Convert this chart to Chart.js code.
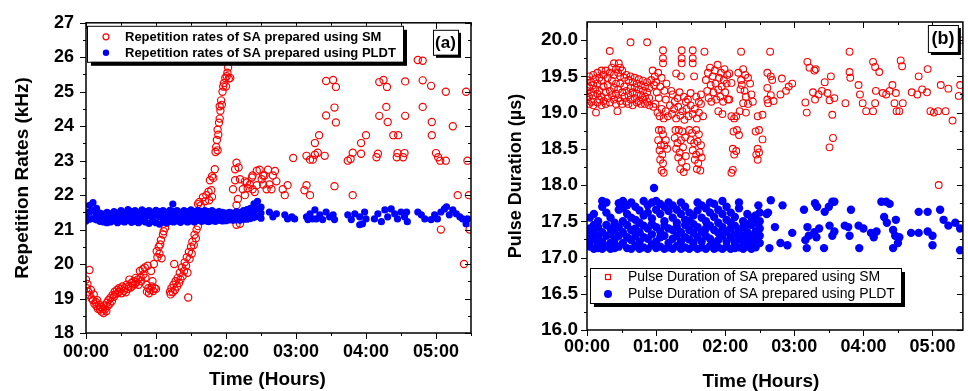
<!DOCTYPE html>
<html>
<head>
<meta charset="utf-8">
<script src="https://cdn.jsdelivr.net/npm/chart.js@4.4.1/dist/chart.umd.min.js"></script>
<style>
  html, body { margin: 0; padding: 0; background: #fff; overflow: hidden; width: 968px; height: 391px; }
  .panel { position: absolute; top: 0; width: 484px; height: 391px; }
  #panelA { left: 0; }
  #panelB { left: 484px; }
</style>
</head>
<body>
<div class="panel" id="panelA"><canvas id="chartA" width="484" height="391"></canvas></div>
<div class="panel" id="panelB"><canvas id="chartB" width="484" height="391"></canvas></div>
<script>
// ---- axis ticks (time in hours) ----
const hourTicks = [0, 1, 2, 3, 4, 5];
const timeTickLabels = ['00:00', '01:00', '02:00', '03:00', '04:00', '05:00'];
const halfHourTicks = [0.5, 1.5, 2.5, 3.5, 4.5, 5.5];
const rateTicks = [18, 19, 20, 21, 22, 23, 24, 25, 26, 27];
const rateMinorTicks = [18.5, 19.5, 20.5, 21.5, 22.5, 23.5, 24.5, 25.5, 26.5];
const durationTicks = [16.0, 16.5, 17.0, 17.5, 18.0, 18.5, 19.0, 19.5, 20.0];
const durationTickLabels = ['16.0', '16.5', '17.0', '17.5', '18.0', '18.5', '19.0', '19.5', '20.0'];
const durationMinorTicks = [16.25, 16.75, 17.25, 17.75, 18.25, 18.75, 19.25, 19.75];

// ---- (a) repetition rate, SA prepared using SM: [hours, kHz] ----
const smRate = [
  [0.00,19.55],[0.01,19.30],[0.02,19.42],[0.03,19.20],[0.05,19.83],[0.05,19.10],[0.07,19.25],[0.08,19.00],
  [0.10,18.95],[0.11,19.12],[0.12,18.85],[0.14,18.90],[0.15,18.78],[0.16,18.95],[0.17,18.70],[0.19,18.82],
  [0.20,18.68],[0.21,18.75],[0.22,18.62],[0.24,18.70],[0.25,18.58],[0.26,18.80],[0.27,18.68],[0.29,18.63],
  [0.30,18.88],[0.31,18.78],[0.32,18.95],[0.34,18.85],[0.35,19.02],[0.37,18.92],[0.38,19.10],[0.40,19.05],
  [0.41,19.20],[0.42,19.12],[0.44,19.25],[0.45,19.15],[0.47,19.30],[0.48,19.20],[0.50,19.28],[0.51,19.15],
  [0.52,19.35],[0.54,19.22],[0.55,19.30],[0.57,19.18],[0.58,19.40],[0.60,19.28],[0.61,19.35],[0.62,19.55],
  [0.64,19.32],[0.65,19.45],[0.67,19.38],[0.68,19.50],[0.70,19.42],[0.71,19.60],[0.72,19.48],[0.74,19.55],
  [0.75,19.40],[0.77,19.80],[0.78,19.62],[0.79,19.50],[0.81,19.85],[0.82,19.70],[0.84,19.90],[0.85,19.60],
  [0.86,19.40],[0.87,19.20],[0.88,19.95],[0.89,19.30],[0.90,19.15],[0.92,19.25],[0.93,19.80],[0.94,19.35],
  [0.95,19.50],[0.96,19.22],[0.97,20.00],[0.98,19.30],[1.00,19.28],[1.01,20.37],[1.02,20.20],[1.04,20.50],
  [1.05,20.30],[1.06,20.57],[1.07,20.70],[1.08,20.17],[1.10,20.86],[1.11,20.95],[1.13,21.05],[1.15,21.20],
  [1.20,19.20],[1.21,19.12],[1.22,19.30],[1.24,19.18],[1.25,19.40],[1.26,20.00],[1.27,19.25],[1.28,19.50],
  [1.30,19.35],[1.31,19.60],[1.33,19.45],[1.34,19.75],[1.35,19.55],[1.37,19.90],[1.38,19.65],[1.40,19.80],
  [1.41,20.05],[1.43,19.95],[1.44,20.20],[1.45,19.75],[1.46,19.03],[1.47,20.35],[1.48,20.15],[1.50,20.50],
  [1.51,20.30],[1.52,20.65],[1.54,20.55],[1.55,20.85],[1.57,20.75],[1.58,21.00],[1.60,21.10],[1.60,21.74],
  [1.62,21.80],[1.64,21.70],[1.67,21.94],[1.70,21.82],[1.72,22.00],[1.75,22.10],[1.76,21.85],[1.77,22.43],
  [1.79,22.14],[1.80,22.55],[1.80,21.95],[1.82,22.50],[1.84,22.75],[1.85,23.25],[1.86,23.40],[1.87,23.60],
  [1.88,23.30],[1.89,23.75],[1.88,23.90],[1.90,24.10],[1.91,24.22],[1.92,24.45],[1.91,24.58],[1.93,24.75],
  [1.94,24.62],[1.95,25.00],[1.96,25.15],[1.97,25.25],[1.99,25.40],[2.00,25.15],[2.01,25.45],[2.02,25.55],
  [2.03,25.70],[2.04,25.38],[2.06,25.40],
  [2.10,22.17],[2.13,22.75],[2.13,22.43],[2.15,22.94],[2.15,21.71],[2.15,21.14],[2.17,21.89],[2.18,22.80],
  [2.20,22.46],[2.20,21.17],[2.24,22.17],[2.27,22.00],[2.27,22.40],[2.30,22.37],[2.31,22.20],[2.34,22.31],
  [2.37,22.51],[2.38,22.17],[2.38,22.57],[2.41,22.09],[2.44,22.29],[2.44,22.71],[2.48,22.74],[2.51,22.46],
  [2.53,22.31],[2.53,22.57],[2.55,22.57],[2.58,22.17],[2.60,22.74],[2.62,22.31],[2.65,22.17],[2.67,22.57],
  [2.70,22.70],[2.72,22.40],
  [2.81,22.17],[2.84,22.00],[2.88,22.29],[2.96,23.08],[3.12,22.14],[3.15,22.29],[3.20,22.00],[3.15,23.14],
  [3.20,23.03],[3.24,23.03],[3.27,23.17],[3.31,23.23],[3.27,23.51],[3.33,23.74],[3.41,23.14],[3.43,24.31],
  [3.43,25.31],[3.53,25.34],[3.57,25.14],[3.55,24.54],[3.57,24.11],[3.55,22.26],[3.74,23.00],[3.78,23.05],
  [3.81,23.23],[3.81,22.00],[3.93,23.20],[3.93,23.51],[4.00,23.74],[4.15,23.10],[4.17,23.20],[4.19,25.28],
  [4.25,25.34],[4.30,25.14],[4.29,24.56],[4.19,24.30],[4.31,24.12],[4.39,23.74],[4.46,23.74],[4.44,23.10],
  [4.45,23.22],[4.53,23.10],[4.55,23.22],[4.56,25.30],[4.56,24.30],[4.74,25.92],[4.81,25.90],[4.81,25.33],
  [4.93,25.17],[4.81,24.56],[4.94,24.12],[4.94,23.74],[5.00,23.22],[5.03,23.10],[5.06,23.00],[5.14,23.00],
  [5.14,25.00],[5.24,24.00],[5.43,25.00],[5.45,23.00],[5.31,22.00],[5.47,22.00],[5.07,21.00],[5.40,20.00],
  [5.48,21.00]
];

// ---- (a) repetition rate, SA prepared using PLDT ----
// dense stretch: [hours, upper, middle, lower] kHz
const pldtRateRows = [
  [0.00,21.50,21.38,21.25],[0.05,21.70,21.50,21.30],[0.10,21.78,21.55,21.32],[0.15,21.62,21.45,21.28],
  [0.20,21.48,21.36,21.24],[0.25,21.45,21.35,21.22],[0.30,21.50,21.38,21.20],[0.35,21.46,21.33,21.22],
  [0.40,21.52,21.40,21.26],[0.45,21.48,21.35,21.20],[0.50,21.55,21.42,21.25],[0.55,21.50,21.36,21.22],
  [0.60,21.58,21.44,21.27],[0.65,21.52,21.38,21.21],[0.70,21.55,21.40,21.24],[0.75,21.50,21.36,21.20],
  [0.80,21.57,21.43,21.26],[0.85,21.52,21.38,21.22],[0.90,21.55,21.40,21.18],[0.95,21.50,21.36,21.24],
  [1.00,21.56,21.42,21.20],[1.05,21.52,21.38,21.16],[1.10,21.55,21.40,21.22],[1.15,21.50,21.35,21.20],
  [1.20,21.56,21.42,21.24],[1.25,21.52,21.38,21.22],[1.30,21.55,21.40,21.25],[1.35,21.50,21.36,21.21],
  [1.40,21.55,21.42,21.26],[1.45,21.52,21.38,21.22],[1.50,21.57,21.43,21.25],[1.55,21.52,21.38,21.22],
  [1.60,21.56,21.42,21.27],[1.65,21.53,21.40,21.24],[1.70,21.55,21.42,21.26],[1.75,21.52,21.38,21.23],
  [1.80,21.55,21.40,21.26],[1.85,21.50,21.36,21.24],[1.90,21.52,21.40,21.27],[1.95,21.50,21.37,21.25],
  [2.00,21.48,21.36,21.26],[2.05,21.50,21.38,21.28],[2.10,21.48,21.36,21.27],[2.15,21.52,21.40,21.28],
  [2.20,21.50,21.38,21.27],[2.25,21.55,21.42,21.30],[2.30,21.58,21.44,21.30],[2.35,21.62,21.47,21.32],
  [2.40,21.75,21.55,21.35],[2.45,21.82,21.60,21.38],[2.50,21.65,21.48,21.33]
];
// single readings: [hours, kHz]
const pldtRate = [
  [1.24,21.74],
  [2.62,21.51],[2.67,21.37],[2.72,21.46],[2.84,21.43],[2.88,21.31],[2.94,21.37],[2.98,21.31],
  [3.15,21.37],[3.17,21.29],[3.20,21.46],[3.24,21.31],[3.27,21.57],[3.29,21.31],[3.34,21.43],[3.38,21.29],
  [3.43,21.51],[3.48,21.37],[3.53,21.43],[3.55,21.29],[3.74,21.43],[3.79,21.29],[3.84,21.46],[3.91,21.37],
  [3.91,21.14],[3.95,21.17],[3.98,21.51],[4.00,21.31],[4.12,21.31],[4.17,21.46],[4.22,21.23],[4.27,21.57],
  [4.31,21.37],[4.36,21.60],[4.41,21.46],[4.45,21.31],[4.50,21.51],[4.55,21.37],[4.58,21.51],[4.59,21.23],
  [4.74,21.51],[4.79,21.43],[4.84,21.31],[4.93,21.29],[4.98,21.43],[5.02,21.31],[5.07,21.51],[5.12,21.60],
  [5.15,21.66],[5.19,21.43],[5.24,21.57],[5.29,21.46],[5.34,21.37],[5.38,21.31],[5.43,21.17],[5.45,21.31]
];

// ---- (b) pulse duration, SA prepared using SM: [hours, µs] ----
const smPulse = [
  [0.00,19.45],[0.00,19.30],[0.00,19.18],[0.03,19.50],[0.03,19.35],[0.03,19.22],[0.03,19.12],
  [0.06,19.42],[0.06,19.28],[0.06,19.15],[0.09,19.52],[0.09,19.38],[0.09,19.24],[0.09,19.10],
  [0.12,19.46],[0.12,19.32],[0.13,19.00],[0.15,19.55],[0.15,19.40],[0.15,19.26],[0.15,19.14],
  [0.18,19.48],[0.18,19.30],[0.18,19.18],[0.21,19.58],[0.21,19.44],[0.21,19.22],[0.21,19.10],
  [0.24,19.52],[0.24,19.36],[0.24,19.16],[0.27,19.58],[0.27,19.28],[0.27,19.12],
  [0.30,19.48],[0.30,19.38],[0.30,19.20],[0.33,19.85],[0.33,19.55],[0.33,19.30],[0.33,19.14],
  [0.36,19.62],[0.36,19.44],[0.36,19.24],[0.39,19.68],[0.39,19.52],[0.39,19.34],[0.39,19.18],
  [0.42,19.60],[0.42,19.40],[0.42,19.26],[0.42,19.12],[0.44,19.02],[0.46,19.68],[0.45,19.55],
  [0.45,19.32],[0.45,19.20],[0.48,19.62],[0.48,19.50],[0.48,19.40],[0.48,19.16],
  [0.51,19.58],[0.51,19.28],[0.51,19.12],[0.54,19.48],[0.54,19.36],[0.54,19.22],
  [0.57,19.52],[0.57,19.30],[0.57,19.15],[0.60,19.45],[0.60,19.24],[0.60,19.12],
  [0.63,19.97],[0.63,19.50],[0.63,19.34],[0.63,19.18],[0.66,19.42],[0.66,19.28],[0.66,19.10],
  [0.69,19.48],[0.69,19.35],[0.69,19.20],[0.72,19.40],[0.72,19.26],[0.72,19.14],
  [0.75,19.46],[0.75,19.32],[0.75,19.16],[0.78,19.38],[0.78,19.24],[0.78,19.12],
  [0.81,19.44],[0.81,19.30],[0.81,19.18],[0.84,19.36],[0.84,19.22],[0.84,19.12],
  [0.87,19.97],[0.87,19.42],[0.87,19.28],[0.87,19.15],[0.90,19.34],[0.90,19.20],[0.90,19.10],
  [0.93,19.45],[0.95,19.58],[0.97,19.38],[0.98,19.50],[1.00,19.42],[1.01,19.28],[1.03,19.55],[1.04,19.20],
  [1.06,19.36],[1.08,19.48],[1.10,19.86],[1.10,19.75],[1.10,19.68],[1.12,19.30],[1.14,19.18],[1.15,19.40],
  [0.96,19.08],[0.99,19.12],[1.02,19.00],[1.05,18.95],[1.08,19.05],[1.11,18.92],[1.14,19.02],[1.17,18.95],
  [1.20,19.10],[1.23,18.98],[1.26,19.05],[1.29,18.92],[1.32,19.08],[1.35,18.96],[1.38,19.02],[1.41,18.90],
  [1.44,19.05],[1.47,18.95],[1.50,19.10],[1.53,18.98],[1.56,19.05],[1.59,18.92],[1.62,19.00],[1.65,19.12],
  [1.68,18.95],
  [1.22,19.30],[1.24,19.25],[1.27,19.15],[1.29,19.54],[1.31,19.20],[1.34,19.28],[1.36,19.50],[1.37,19.86],
  [1.37,19.75],[1.37,19.68],[1.40,19.22],[1.43,19.15],[1.46,19.18],[1.50,19.27],[1.53,19.86],[1.53,19.75],
  [1.53,19.68],[1.55,19.50],[1.58,19.22],[1.62,19.15],[1.65,19.25],[1.70,19.84],
  [1.04,18.76],[1.08,18.76],[1.03,18.62],[1.07,18.55],[1.10,18.70],[1.05,18.48],[1.09,18.42],[1.12,18.55],
  [1.06,18.35],[1.10,18.30],[1.08,18.20],[1.11,18.17],[1.14,18.62],[1.16,18.50],
  [1.28,18.76],[1.33,18.76],[1.38,18.74],[1.27,18.65],[1.31,18.58],[1.36,18.62],[1.42,18.66],[1.29,18.50],
  [1.34,18.45],[1.39,18.52],[1.32,18.38],[1.37,18.32],[1.43,18.40],[1.35,18.22],[1.40,18.18],[1.44,18.25],
  [1.48,18.76],[1.52,18.72],[1.58,18.76],[1.62,18.70],[1.50,18.62],[1.55,18.58],[1.60,18.60],[1.65,18.55],
  [1.53,18.48],[1.58,18.42],[1.63,18.45],[1.56,18.35],[1.61,18.30],[1.66,18.38],[1.59,18.22],[1.64,18.20],
  [1.72,19.45],[1.74,19.30],[1.75,19.55],[1.76,19.20],[1.78,19.62],[1.79,19.38],[1.80,19.15],[1.82,19.50],
  [1.83,19.28],[1.85,19.58],[1.86,19.40],[1.87,19.18],[1.89,19.66],[1.90,19.32],[1.91,19.48],[1.93,19.22],
  [1.94,19.55],[1.95,19.36],[1.97,19.15],[1.98,19.45],[1.99,19.60],[2.00,19.28],[2.02,19.40],[2.03,19.52],
  [2.04,19.18],[1.90,19.02],[1.96,18.98],
  [2.06,19.54],[2.09,19.41],[2.06,19.18],[2.09,18.95],[2.13,18.92],[2.16,18.95],[2.12,18.74],[2.17,18.76],
  [2.20,18.69],[2.11,18.50],[2.16,18.47],[2.13,18.42],[2.11,18.21],[2.09,18.17],
  [2.19,19.55],[2.23,19.84],[2.23,19.45],[2.26,19.60],[2.29,19.52],[2.33,19.48],[2.24,19.38],[2.28,19.30],
  [2.36,19.40],[2.22,19.32],[2.30,19.22],[2.38,19.25],[2.26,19.13],[2.33,19.12],[2.40,19.15],[2.21,19.02],
  [2.30,19.00],[2.47,18.95],[2.54,18.97],[2.44,18.74],[2.49,18.76],[2.54,18.63],[2.47,18.50],[2.49,18.45],
  [2.45,18.42],[2.47,18.35],[2.61,19.55],[2.66,19.50],[2.61,19.34],[2.61,19.18],[2.62,19.13],[2.65,19.84],
  [2.68,19.45],[2.66,19.24],[2.70,19.16],[2.80,19.25],[2.82,19.47],[2.88,19.30],[2.92,19.36],[2.97,19.40],
  [3.16,19.14],[3.18,19.00],[3.19,19.70],[3.22,19.62],[3.27,19.28],[3.29,19.58],[3.31,19.60],[3.30,19.18],
  [3.35,19.25],[3.40,19.30],[3.44,19.42],[3.48,19.27],[3.51,19.17],[3.53,19.50],[3.55,18.97],[3.56,18.65],
  [3.51,18.52],[3.58,19.20],[3.74,19.13],[3.80,19.84],[3.80,19.56],[3.81,19.48],[3.93,19.38],[3.95,19.25],
  [3.99,19.13],[4.04,19.02],[4.14,19.02],[4.14,19.70],[4.17,19.63],[4.17,19.13],[4.18,19.30],[4.23,19.56],
  [4.28,19.27],[4.33,19.25],[4.38,19.30],[4.42,19.38],[4.45,19.13],[4.48,19.02],[4.52,19.02],[4.47,19.27],
  [4.54,19.72],[4.56,19.64],[4.57,19.13],[4.70,19.28],[4.78,19.25],[4.80,19.50],[4.85,19.32],[4.93,19.60],
  [4.92,19.28],[4.97,19.02],[5.02,19.00],[5.08,19.02],[5.09,18.00],[5.12,19.38],[5.19,19.02],[5.29,18.89],
  [5.23,19.33],[5.38,19.23],[5.40,19.38],[5.44,20.00]
];

// ---- (b) pulse duration, SA prepared using PLDT ----
// dense stretch: [hours, five readings in µs]
const pldtPulseRows = [
  [0.04,17.55,17.40,17.30,17.20,17.15],[0.10,17.60,17.45,17.35,17.25,17.12],[0.16,17.50,17.42,17.28,17.18,17.13],
  [0.22,17.78,17.70,17.35,17.22,17.12],[0.28,17.76,17.62,17.45,17.30,17.15],[0.34,17.55,17.40,17.32,17.20,17.12],
  [0.40,17.48,17.38,17.25,17.18,17.13],[0.46,17.75,17.66,17.42,17.30,17.15],[0.52,17.78,17.68,17.50,17.35,17.20],
  [0.58,17.72,17.60,17.45,17.28,17.13],[0.64,17.76,17.55,17.38,17.24,17.12],[0.70,17.70,17.52,17.40,17.30,17.16],
  [0.76,17.65,17.48,17.35,17.22,17.12],[0.82,17.78,17.58,17.44,17.28,17.14],[0.88,17.72,17.62,17.40,17.26,17.12],
  [0.94,17.76,17.54,17.46,17.32,17.18],[1.00,17.78,17.66,17.42,17.22,17.13],[1.06,17.74,17.60,17.36,17.28,17.15],
  [1.12,17.70,17.50,17.44,17.30,17.12],[1.18,17.76,17.64,17.40,17.20,17.14],[1.24,17.72,17.55,17.38,17.26,17.12],
  [1.30,17.66,17.48,17.42,17.30,17.16],[1.36,17.76,17.60,17.35,17.22,17.12],[1.42,17.70,17.52,17.45,17.28,17.14],
  [1.48,17.62,17.50,17.38,17.25,17.12],[1.54,17.58,17.46,17.34,17.20,17.15],[1.60,17.76,17.65,17.42,17.28,17.12],
  [1.66,17.72,17.55,17.36,17.22,17.14],[1.72,17.68,17.50,17.40,17.30,17.12],[1.78,17.76,17.62,17.44,17.26,17.16],
  [1.84,17.74,17.56,17.38,17.20,17.12],[1.90,17.66,17.48,17.34,17.24,17.14],[1.96,17.78,17.60,17.42,17.30,17.12],
  [2.02,17.70,17.52,17.36,17.22,17.15],[2.08,17.62,17.48,17.40,17.28,17.12],[2.14,17.56,17.44,17.32,17.20,17.13],
  [2.20,17.76,17.68,17.38,17.26,17.14],[2.26,17.50,17.42,17.30,17.22,17.12],[2.32,17.60,17.46,17.35,17.25,17.15],
  [2.38,17.55,17.45,17.30,17.20,17.12],[2.44,17.58,17.48,17.36,17.25,17.14],[2.50,17.62,17.50,17.40,17.30,17.20]
];
// single readings: [hours, µs]
const pldtPulse = [
  [0.97,17.96],[2.48,17.72],[2.60,17.60],[2.64,17.13],
  [2.66,17.79],[2.62,17.62],[2.72,17.42],[2.83,17.72],[2.80,17.20],[2.90,17.17],[2.97,17.34],[3.14,17.66],
  [3.16,17.24],[3.19,17.42],[3.21,17.30],[3.18,17.13],[3.30,17.75],[3.33,17.70],[3.29,17.35],[3.32,17.28],
  [3.36,17.40],[3.43,17.13],[3.44,17.63],[3.50,17.70],[3.55,17.77],[3.58,17.77],[3.51,17.44],[3.55,17.30],
  [3.58,17.36],[3.73,17.44],[3.78,17.42],[3.82,17.66],[3.80,17.30],[3.94,17.13],[3.93,17.44],[4.00,17.40],
  [4.11,17.34],[4.15,17.28],[4.19,17.36],[4.26,17.77],[4.33,17.77],[4.38,17.74],[4.30,17.56],[4.34,17.48],
  [4.43,17.38],[4.46,17.30],[4.52,17.28],[4.50,17.20],[4.47,17.52],[4.43,17.13],[4.69,17.34],[4.80,17.63],
  [4.80,17.34],[4.93,17.63],[4.93,17.36],[5.00,17.30],[5.00,17.17],[5.11,17.66],[5.16,17.52],[5.23,17.44],
  [5.33,17.48],[5.40,17.10],[5.40,17.40]
];

const FONT = "'Liberation Sans', Arial, Helvetica, sans-serif";
Chart.defaults.font.family = FONT;
Chart.defaults.color = '#000';

const RED = '#ff0000';
const BLUE = '#0000ff';

const toPoints = list => list.map(([x, y]) => ({ x, y }));
const rowsToPoints = rows => rows.flatMap(([t, ...vals]) => vals.map(v => ({ x: t, y: v })));

// Frame, mirrored/minor ticks, boxed legend, panel tag and x title.
const panelDecor = {
  id: 'panelDecor',
  afterDatasetsDraw(chart, args, o) {
    const { ctx, chartArea: a } = chart;
    const xs = chart.scales.x, ys = chart.scales.y;
    ctx.save();
    ctx.strokeStyle = '#000';
    ctx.lineWidth = 1;
    ctx.beginPath();
    const seg = (x1, y1, x2, y2) => { ctx.moveTo(x1, y1); ctx.lineTo(x2, y2); };
    const xTick = (v, len) => {
      const p = Math.round(xs.getPixelForValue(v)) + 0.5;
      seg(p, a.bottom, p, a.bottom + len);
      seg(p, a.top, p, a.top + len);
    };
    const yTick = (v, len) => {
      const p = Math.round(ys.getPixelForValue(v)) + 0.5;
      seg(a.left - len, p, a.left, p);
      seg(a.right, p, a.right - len, p);
    };
    o.xMajor.forEach(v => xTick(v, 6));
    o.xMinor.forEach(v => xTick(v, 3));
    o.yMajor.forEach(v => yTick(v, 6));
    o.yMinor.forEach(v => yTick(v, 3));
    ctx.stroke();
    ctx.lineWidth = 1.5;
    ctx.strokeRect(a.left, a.top, a.right - a.left, a.bottom - a.top);

    const shadowBox = (x, y, w, h, d) => {
      ctx.fillStyle = '#000';
      ctx.fillRect(x + d, y + d, w, h);
      ctx.fillStyle = '#fff';
      ctx.fillRect(x, y, w, h);
      ctx.lineWidth = 1;
      ctx.strokeStyle = '#000';
      ctx.strokeRect(x + 0.5, y + 0.5, w, h);
    };

    // legend
    const L = o.legend;
    const lx = a.left + L.x, ly = a.top + L.y;
    shadowBox(lx, ly, L.w, L.h, L.shadow);
    ctx.font = L.font;
    ctx.textBaseline = 'middle';
    ctx.textAlign = 'left';
    L.rows.forEach((r, i) => {
      const ds = chart.data.datasets[i];
      const mx = lx + L.markerX, my = ly + r.y;
      if (r.kind === 'ring') {
        ctx.beginPath(); ctx.arc(mx, my, 3, 0, Math.PI * 2);
        ctx.strokeStyle = RED; ctx.lineWidth = 1.2; ctx.stroke();
      } else if (r.kind === 'square') {
        ctx.strokeStyle = RED; ctx.lineWidth = 1.2; ctx.strokeRect(mx - 2.5, my - 2.5, 5, 5);
      } else {
        ctx.beginPath(); ctx.arc(mx, my, r.size, 0, Math.PI * 2);
        ctx.fillStyle = BLUE; ctx.fill();
      }
      ctx.fillStyle = '#000';
      ctx.fillText(ds.label, lx + L.textX, my + 0.5);
    });

    // panel tag
    const T = o.tag;
    const tx = a.right + T.x, ty = a.top + T.y;
    shadowBox(tx, ty, T.w, T.h, T.shadow);
    ctx.font = T.font;
    ctx.fillStyle = '#000';
    ctx.textAlign = 'center';
    ctx.textBaseline = 'middle';
    ctx.fillText(T.text, tx + T.w / 2, ty + T.h / 2 + 1);

    // x axis title
    const X = o.xTitle;
    ctx.font = X.font;
    ctx.fillText(X.text, (a.left + a.right) / 2 + X.dx, X.y);
    ctx.restore();
  }
};

function buildChart(canvasId, cfg) {
  return new Chart(document.getElementById(canvasId), {
    type: 'scatter',
    data: { datasets: cfg.datasets },
    options: {
      responsive: false,
      animation: false,
      events: [],
      layout: { padding: cfg.padding },
      plugins: {
        legend: { display: false },
        tooltip: { enabled: false },
        panelDecor: cfg.decor
      },
      scales: {
        x: {
          type: 'linear',
          min: 0,
          max: cfg.xMax,
          afterFit: s => { s.height = cfg.xAxisHeight; },
          afterBuildTicks: s => { s.ticks = hourTicks.map(v => ({ value: v })); },
          ticks: {
            callback: (v, i) => timeTickLabels[i],
            font: { size: 18, weight: 'bold' },
            color: '#000',
            padding: cfg.xTickPad,
            autoSkip: false,
            maxRotation: 0
          },
          grid: { display: true, drawOnChartArea: false, drawTicks: false },
          border: { display: false },
          title: { display: false }
        },
        y: {
          type: 'linear',
          min: cfg.yMin,
          max: cfg.yMax,
          afterFit: s => { s.width = cfg.yAxisWidth; },
          afterBuildTicks: s => { s.ticks = cfg.yTicks.map(v => ({ value: v })); },
          ticks: {
            callback: (v, i) => cfg.yLabels[i],
            font: { size: cfg.yTickSize, weight: 'bold' },
            color: '#000',
            padding: cfg.yTickPad,
            autoSkip: false
          },
          grid: { display: true, drawOnChartArea: false, drawTicks: false },
          border: { display: false },
          title: {
            display: true,
            text: cfg.yTitle,
            font: { size: cfg.yTitleSize, weight: 'bold' },
            color: '#000',
            padding: { top: cfg.yTitlePad, bottom: 0 }
          }
        }
      }
    },
    plugins: [panelDecor]
  });
}

// (a) repetition rate
buildChart('chartA', {
  datasets: [
    {
      label: 'Repetition rates of SA prepared using SM',
      data: toPoints(smRate),
      pointStyle: 'circle', pointRadius: 3.6,
      borderColor: RED, backgroundColor: 'rgba(255,255,255,0)', borderWidth: 1.2,
      order: 1
    },
    {
      label: 'Repetition rates of SA prepared using PLDT',
      data: rowsToPoints(pldtRateRows).concat(toPoints(pldtRate)),
      pointStyle: 'circle', pointRadius: 3.6,
      borderColor: BLUE, backgroundColor: BLUE, borderWidth: 0,
      order: 0
    }
  ],
  padding: { top: 18, right: 13, left: 0, bottom: 0 },
  xMax: 5.5, xAxisHeight: 58, xTickPad: 8,
  yMin: 18, yMax: 27, yAxisWidth: 86, yTickPad: 12, yTickSize: 18,
  yTicks: rateTicks, yLabels: rateTicks.map(String),
  yTitle: 'Repetition Rates (kHz)', yTitleSize: 19, yTitlePad: 11,
  decor: {
    xMajor: hourTicks, xMinor: halfHourTicks, yMajor: rateTicks, yMinor: rateMinorTicks,
    legend: {
      x: 1, y: 3, w: 316, h: 36, shadow: 4, markerX: 19, textX: 38,
      font: "bold 13px 'Liberation Sans', Arial, sans-serif",
      rows: [{ y: 11, kind: 'ring' }, { y: 27, kind: 'dot', size: 3.2 }]
    },
    tag: { text: '(a)', x: -38, y: 7, w: 25, h: 25, shadow: 3, font: "bold 17px 'Liberation Sans', Arial, sans-serif" },
    xTitle: { text: 'Time (Hours)', dx: -11, y: 380, font: "bold 19px 'Liberation Sans', Arial, sans-serif" }
  }
});

// (b) pulse duration
buildChart('chartB', {
  datasets: [
    {
      label: 'Pulse Duration of SA prepared using SM',
      data: toPoints(smPulse),
      pointStyle: 'circle', pointRadius: 3.4,
      borderColor: RED, backgroundColor: 'rgba(255,255,255,0)', borderWidth: 1.1,
      order: 1
    },
    {
      label: 'Pulse Duration of SA prepared using PLDT',
      data: rowsToPoints(pldtPulseRows).concat(toPoints(pldtPulse)),
      pointStyle: 'circle', pointRadius: 4.2,
      borderColor: BLUE, backgroundColor: BLUE, borderWidth: 0,
      order: 0
    }
  ],
  padding: { top: 22, right: 1, left: 0, bottom: 0 },
  xMax: 5.44, xAxisHeight: 61, xTickPad: 6,
  yMin: 16, yMax: 20.25, yAxisWidth: 103, yTickPad: 9, yTickSize: 19,
  yTicks: durationTicks, yLabels: durationTickLabels,
  yTitle: 'Pulse Duration (µs)', yTitleSize: 18, yTitlePad: 21,
  decor: {
    xMajor: hourTicks, xMinor: halfHourTicks.slice(0, 5), yMajor: durationTicks, yMinor: durationMinorTicks,
    legend: {
      x: 3, y: 246, w: 311, h: 35, shadow: 4, markerX: 18, textX: 38,
      font: "14px 'Liberation Sans', Arial, sans-serif",
      rows: [{ y: 9, kind: 'square' }, { y: 26, kind: 'dot', size: 4 }]
    },
    tag: { text: '(b)', x: -35, y: 3, w: 30, h: 27, shadow: 3, font: "bold 18px 'Liberation Sans', Arial, sans-serif" },
    xTitle: { text: 'Time (Hours)', dx: -14, y: 382, font: "bold 19px 'Liberation Sans', Arial, sans-serif" }
  }
});
</script>
</body>
</html>
